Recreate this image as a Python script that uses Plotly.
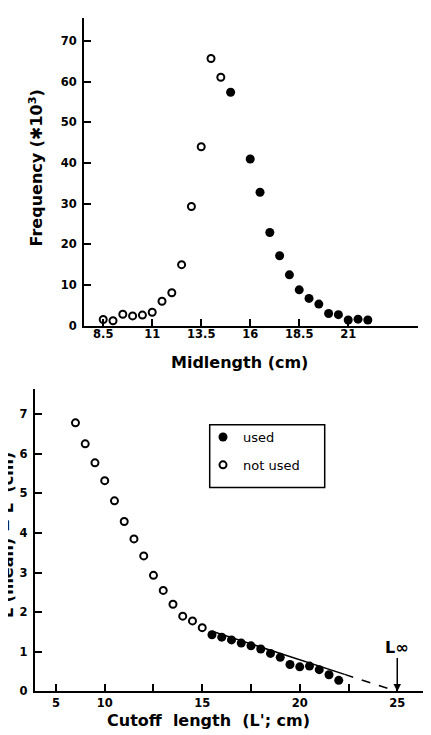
import plotly.graph_objects as go

# ---------------- data: top panel (length-frequency) ----------------
mid_notused = [8.5, 9.0, 9.5, 10.0, 10.5, 11.0, 11.5, 12.0, 12.5, 13.0, 13.5, 14.0, 14.5]
freq_notused = [1.5, 1.2, 2.8, 2.4, 2.6, 3.3, 6.0, 8.1, 15.0, 29.3, 44.0, 65.7, 61.1]
mid_used = [15.0, 16.0, 16.5, 17.0, 17.5, 18.0, 18.5, 19.0, 19.5, 20.0, 20.5, 21.0, 21.5, 22.0]
freq_used = [57.4, 41.0, 32.8, 22.9, 17.2, 12.5, 8.8, 6.7, 5.3, 3.0, 2.7, 1.4, 1.6, 1.4]
top_xticks = [8.5, 11, 13.5, 16, 18.5, 21]
top_yticks = [0, 10, 20, 30, 40, 50, 60, 70]

# ---------------- data: bottom panel (mean length minus cutoff) ----------------
cut_notused = [8.5, 9.0, 9.5, 10.0, 10.5, 11.0, 11.5, 12.0, 12.5, 13.0, 13.5, 14.0, 14.5, 15.0]
diff_notused = [6.78, 6.25, 5.77, 5.32, 4.81, 4.29, 3.85, 3.42, 2.93, 2.55, 2.20, 1.90, 1.78, 1.61]
cut_used = [15.5, 16.0, 16.5, 17.0, 17.5, 18.0, 18.5, 19.0, 19.5, 20.0, 20.5, 21.0, 21.5, 22.0]
diff_used = [1.43, 1.37, 1.30, 1.22, 1.15, 1.07, 0.96, 0.86, 0.68, 0.62, 0.64, 0.55, 0.42, 0.28]
fit_x = [15.5, 22.3, 25.0]
fit_y = [1.52, 0.43, 0.0]
linf = 25.0
bot_xticks = [7.5, 10, 12.5, 15, 17.5, 20, 22.5, 25]
bot_xticktext = ["5", "10", "", "15", "", "20", "", "25"]
bot_yticks = [0, 1, 2, 3, 4, 5, 6, 7]

W, H = 431, 735
FONT = "DejaVu Sans"

fig = go.Figure()

open_marker = dict(symbol="circle-open", size=7, color="black", line=dict(width=2, color="black"))
fill_marker = dict(symbol="circle", size=9, color="black", line=dict(width=0))

# top panel
fig.add_trace(go.Scatter(x=mid_notused, y=freq_notused, mode="markers", marker=open_marker,
                         xaxis="x", yaxis="y", showlegend=False, cliponaxis=False))
fig.add_trace(go.Scatter(x=mid_used, y=freq_used, mode="markers", marker=fill_marker,
                         xaxis="x", yaxis="y", showlegend=False, cliponaxis=False))

# bottom panel: fit line
fig.add_trace(go.Scatter(x=fit_x[:2], y=fit_y[:2], mode="lines", line=dict(color="black", width=1.5),
                         xaxis="x2", yaxis="y2", showlegend=False, hoverinfo="skip"))
fig.add_trace(go.Scatter(x=fit_x[1:], y=fit_y[1:], mode="lines",
                         line=dict(color="black", width=1.5, dash="dash"),
                         xaxis="x2", yaxis="y2", showlegend=False, hoverinfo="skip"))
fig.add_trace(go.Scatter(x=cut_used, y=diff_used, mode="markers", marker=fill_marker, name="used",
                         xaxis="x2", yaxis="y2", legendgroup="a", cliponaxis=False))
fig.add_trace(go.Scatter(x=cut_notused, y=diff_notused, mode="markers", marker=open_marker, name="not used",
                         xaxis="x2", yaxis="y2", legendgroup="b", cliponaxis=False))


def px_x(p):
    return p / W


def px_y(p):
    return (H - p) / H


axis_common = dict(showline=True, linewidth=2, linecolor="black", ticks="inside", ticklen=7,
                   tickwidth=1.5, tickcolor="black", showgrid=False, zeroline=False,
                   tickfont=dict(family=FONT, size=11.5, color="black", weight="bold"))

fig.update_layout(
    width=W, height=H,
    margin=dict(l=0, r=0, t=0, b=0),
    paper_bgcolor="white", plot_bgcolor="white",
    font=dict(family=FONT, color="black"),
    xaxis=dict(domain=[px_x(76), px_x(410)], range=[7.52, 24.56], anchor="y",
               tickvals=top_xticks, ticktext=[str(v) for v in top_xticks],
               ticklabelstandoff=-3, **axis_common),
    yaxis=dict(domain=[px_y(320.7), px_y(10)], range=[0, 75.7], anchor="x",
               tickvals=top_yticks, ticklabelstandoff=3, **axis_common),
    xaxis2=dict(domain=[px_x(26.7), 1.0], range=[6.41, 27.14], anchor="y2",
                tickvals=bot_xticks, ticktext=bot_xticktext, ticklabelstandoff=0, **axis_common),
    yaxis2=dict(domain=[px_y(690), px_y(385)], range=[0, 7.625], anchor="x2",
                tickvals=bot_yticks, ticklabelstandoff=3, **axis_common),
    showlegend=True,
    legend=dict(x=px_x(195), y=px_y(418), xanchor="left", yanchor="top",
                bgcolor="rgba(0,0,0,0)", borderwidth=0, traceorder="grouped", tracegroupgap=8,
                font=dict(family=FONT, size=13, color="black")),
)

# legend frame
fig.add_shape(type="rect", xref="paper", yref="paper",
              x0=px_x(201.7), x1=px_x(316.7), y0=px_y(484), y1=px_y(420.7),
              line=dict(color="black", width=1.5), fillcolor="rgba(0,0,0,0)")

title_font = dict(family=FONT, size=16, color="black", weight="bold")

fig.add_annotation(text="Midlength (cm)", xref="paper", yref="paper", xanchor="center", yanchor="middle",
                   x=px_x(231), y=px_y(358), showarrow=False, font=title_font)
fig.add_annotation(text="Frequency (✱10<sup>3</sup>)", xref="paper", yref="paper",
                   xanchor="center", yanchor="middle",
                   x=px_x(28), y=px_y(162), showarrow=False, textangle=-90, font=title_font)
fig.add_annotation(text="Cutoff  length  (L'; cm)", xref="paper", yref="paper",
                   xanchor="center", yanchor="middle",
                   x=px_x(200), y=px_y(719), showarrow=False, font=title_font)
# y title of the lower panel is cropped at the left edge in the reference image
fig.add_annotation(text="L̄ (mean) − L' (cm)", xref="paper", yref="paper",
                   xanchor="center", yanchor="middle",
                   x=px_x(-1), y=px_y(532), showarrow=False, textangle=-90, font=title_font)

# L-infinity arrow
fig.add_annotation(text="L∞", x=linf, y=0, xref="x2", yref="y2",
                   ax=linf, ay=1.12, axref="x2", ayref="y2",
                   showarrow=True, arrowhead=2, arrowsize=1, arrowwidth=1.5, arrowcolor="black",
                   font=dict(family=FONT, size=16, color="black", weight="bold"))

fig.write_html("out.html")
